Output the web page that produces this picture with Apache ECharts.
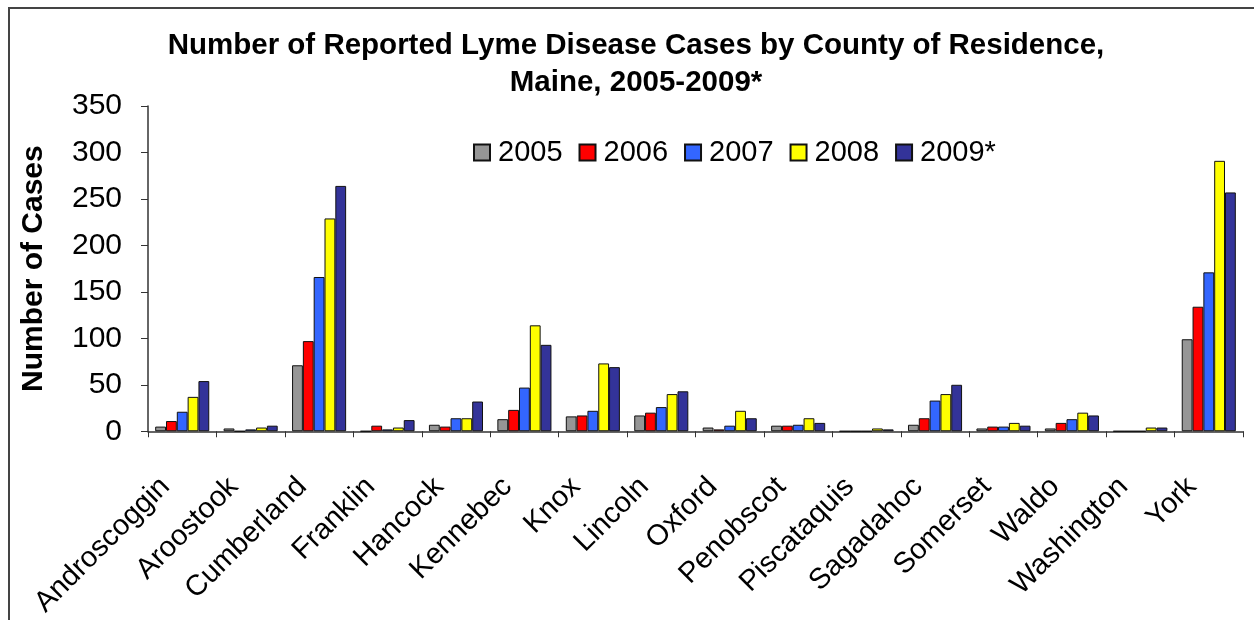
<!DOCTYPE html>
<html>
<head>
<meta charset="utf-8">
<script src="https://cdn.jsdelivr.net/npm/echarts@6/dist/echarts.min.js"></script>
<style>html,body{margin:0;padding:0;background:#fff}#c{width:1254px;height:620px}</style>
</head>
<body>
<div id="c"></div>
<script>
const counties = ['Androscoggin','Aroostook','Cumberland','Franklin','Hancock','Kennebec','Knox','Lincoln','Oxford','Penobscot','Piscataquis','Sagadahoc','Somerset','Waldo','Washington','York'];
const years = ['2005','2006','2007','2008','2009*'];
const cases2005 = [5,3,71,0,7,13,16,17,4,6,0,7,3,3,0,99];
const cases2006 = [11,0,97,6,5,23,17,20,2,6,0,14,5,9,0,134];
const cases2007 = [21,2,166,2,14,47,22,26,6,7,0,33,5,13,0,171];
const cases2008 = [37,4,229,4,14,114,73,40,22,14,3,40,9,20,4,291];
const cases2009 = [54,6,264,12,32,93,69,43,14,9,2,50,6,17,4,257];
const yTicks = [0,50,100,150,200,250,300,350];
const colors = ['#969696','#ff0000','#3366ff','#ffff00','#333399'];
const seriesData = [cases2005,cases2006,cases2007,cases2008,cases2009];

const FONT = '"Liberation Sans", Arial, sans-serif';
const chart = echarts.init(document.getElementById('c'), null, {renderer:'canvas'});
chart.setOption({
  backgroundColor:'#fff',
  animation:false,
  textStyle:{fontFamily:FONT},
  graphic:[{type:'rect',shape:{x:9,y:8,width:1260,height:640},style:{fill:'none',stroke:'#444',lineWidth:2},silent:true}],
  title:{
    text:'Number of Reported Lyme Disease Cases by County of Residence,\nMaine, 2005-2009*',
    left:636, top:27, padding:0, textAlign:'center',
    textStyle:{fontFamily:FONT,fontWeight:'bold',fontSize:29.5,lineHeight:37,color:'#000'}
  },
  legend:{
    data:years, left:468, top:133, itemWidth:16, itemHeight:16, itemGap:16,
    icon:'rect',
    textStyle:{fontFamily:FONT,fontSize:29,color:'#000',padding:[0,0,0,3]}
  },
  grid:{left:148,right:11,top:106,bottom:187,containLabel:false},
  xAxis:{
    type:'category', data:counties,
    axisLine:{lineStyle:{color:'#333',width:1.5}},
    axisTick:{show:true,length:6,lineStyle:{color:'#333'},alignWithLabel:false},
    axisLabel:{rotate:45,fontSize:29,color:'#000',fontFamily:FONT,margin:34,interval:0,padding:[0,24,0,0]}
  },
  yAxis:{
    type:'value', min:0, max:350, interval:50,
    name:'Number of Cases', nameLocation:'middle', nameGap:99,
    nameTextStyle:{fontFamily:FONT,fontWeight:'bold',fontSize:30,color:'#000'},
    axisLine:{show:true,lineStyle:{color:'#333',width:1.5}},
    axisTick:{show:true,inside:false,length:7,lineStyle:{color:'#333'}},
    splitLine:{show:false},
    axisLabel:{fontSize:30,color:'#000',fontFamily:FONT,margin:26,
      formatter:v=>yTicks.includes(v)?String(v):''}
  },
  series: years.map((y,i)=>({
    name:y, type:'bar', data:seriesData[i],
    barGap:'0%', barCategoryGap:'21%',
    itemStyle:{color:colors[i],borderColor:'#111',borderWidth:1}
  }))
});
</script>
</body>
</html>
